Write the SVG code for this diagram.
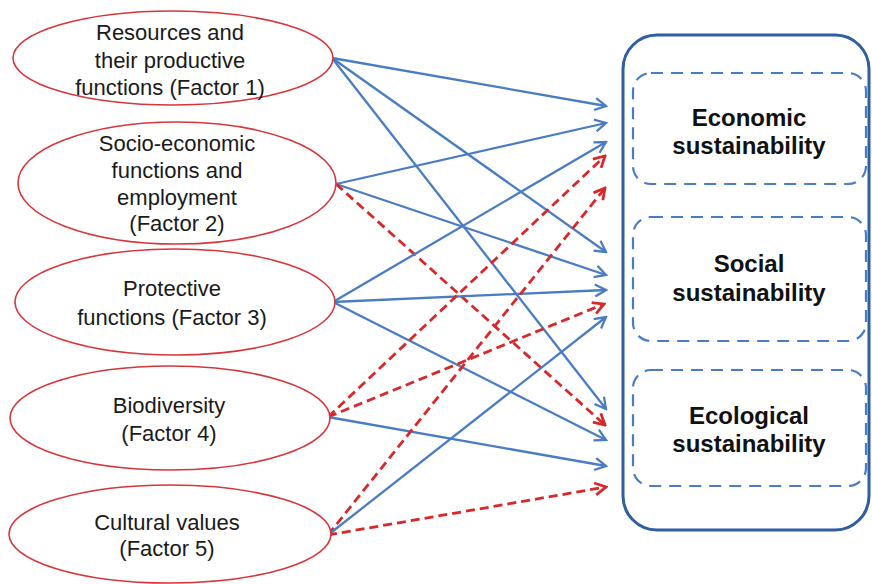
<svg xmlns="http://www.w3.org/2000/svg" width="872" height="584" viewBox="0 0 872 584">
  <style>
    .factor ellipse { fill: #ffffff; stroke: #d8353b; stroke-width: 1.6; }
    .factor text { font-family: "Liberation Sans", Arial, sans-serif; font-size: 22px; fill: #1a1a1a; text-anchor: middle; }
    .goal rect { fill: none; stroke: #4a7cc3; stroke-width: 2.2; stroke-dasharray: 12 8; }
    .goal text { font-family: "Liberation Sans", Arial, sans-serif; font-size: 24px; font-weight: bold; fill: #111111; text-anchor: middle; }
    .frame { fill: none; stroke: #2f5f9e; stroke-width: 3; }
    .pos { stroke: #4a7cc3; stroke-width: 2.3; fill: none; marker-end: url(#headBlue); }
    .neg { stroke: #d8282a; stroke-width: 2.8; fill: none; stroke-dasharray: 9 5; marker-end: url(#headRed); }
  </style>
  <defs>
    <marker id="headBlue" viewBox="0 0 14 14" refX="12" refY="7" markerWidth="14" markerHeight="14" markerUnits="userSpaceOnUse" orient="auto">
      <path d="M1,1 L12,7 L1,13" fill="none" stroke="#4a7cc3" stroke-width="2.3"/>
    </marker>
    <marker id="headRed" viewBox="0 0 14 14" refX="12" refY="7" markerWidth="14" markerHeight="14" markerUnits="userSpaceOnUse" orient="auto">
      <path d="M1,1 L12,7 L1,13" fill="none" stroke="#d8282a" stroke-width="2.8"/>
    </marker>
  </defs>
  <rect width="872" height="584" fill="#ffffff"/>

  <!-- connectors -->
  <g id="connectors">
    <!-- Factor 1 -->
    <line class="pos" x1="332" y1="58" x2="606" y2="106"/>
    <line class="pos" x1="332" y1="58" x2="606" y2="252"/>
    <line class="pos" x1="332" y1="58" x2="606" y2="409"/>
    <!-- Factor 2 -->
    <line class="pos" x1="336" y1="184" x2="606" y2="123"/>
    <line class="pos" x1="336" y1="184" x2="606" y2="275"/>
    <line class="neg" x1="336" y1="184" x2="605" y2="425"/>
    <!-- Factor 3 -->
    <line class="pos" x1="333" y1="302" x2="606" y2="142"/>
    <line class="pos" x1="333" y1="302" x2="606" y2="290"/>
    <line class="pos" x1="333" y1="302" x2="606" y2="440"/>
    <!-- Factor 4 -->
    <line class="neg" x1="328" y1="417" x2="605" y2="156"/>
    <line class="neg" x1="328" y1="417" x2="604" y2="304"/>
    <line class="pos" x1="328" y1="417" x2="606" y2="466"/>
    <!-- Factor 5 -->
    <line class="neg" x1="328" y1="535" x2="605" y2="188"/>
    <line class="pos" x1="328" y1="535" x2="606" y2="317"/>
    <line class="neg" x1="328" y1="535" x2="606" y2="487"/>
  </g>

  <!-- factors -->
  <g id="factor1" class="factor">
    <ellipse cx="173" cy="58" rx="160" ry="47"/>
    <text x="170" y="40">Resources and</text>
    <text x="170" y="68">their productive</text>
    <text x="170" y="95">functions (Factor 1)</text>
  </g>
  <g id="factor2" class="factor">
    <ellipse cx="177" cy="183" rx="159" ry="61"/>
    <text x="177" y="151">Socio-economic</text>
    <text x="177" y="178">functions and</text>
    <text x="177" y="205">employment</text>
    <text x="177" y="231">(Factor 2)</text>
  </g>
  <g id="factor3" class="factor">
    <ellipse cx="175" cy="302" rx="160" ry="53"/>
    <text x="172" y="296">Protective</text>
    <text x="172" y="325">functions (Factor 3)</text>
  </g>
  <g id="factor4" class="factor">
    <ellipse cx="170" cy="418" rx="160" ry="52"/>
    <text x="169" y="413">Biodiversity</text>
    <text x="169" y="441">(Factor 4)</text>
  </g>
  <g id="factor5" class="factor">
    <ellipse cx="170" cy="534" rx="161" ry="49"/>
    <text x="167" y="530">Cultural values</text>
    <text x="167" y="556">(Factor 5)</text>
  </g>

  <!-- sustainability pillars -->
  <g id="sustainability">
    <rect class="frame" x="623" y="35" width="246" height="495" rx="34" ry="34"/>
    <g id="economic" class="goal">
      <rect x="633" y="73" width="233" height="111" rx="18" ry="18"/>
      <text x="749" y="126">Economic</text>
      <text x="749" y="154">sustainability</text>
    </g>
    <g id="social" class="goal">
      <rect x="633" y="217" width="233" height="124" rx="18" ry="18"/>
      <text x="749" y="272">Social</text>
      <text x="749" y="301">sustainability</text>
    </g>
    <g id="ecological" class="goal">
      <rect x="633" y="370" width="233" height="116" rx="18" ry="18"/>
      <text x="749" y="424">Ecological</text>
      <text x="749" y="452">sustainability</text>
    </g>
  </g>
</svg>
